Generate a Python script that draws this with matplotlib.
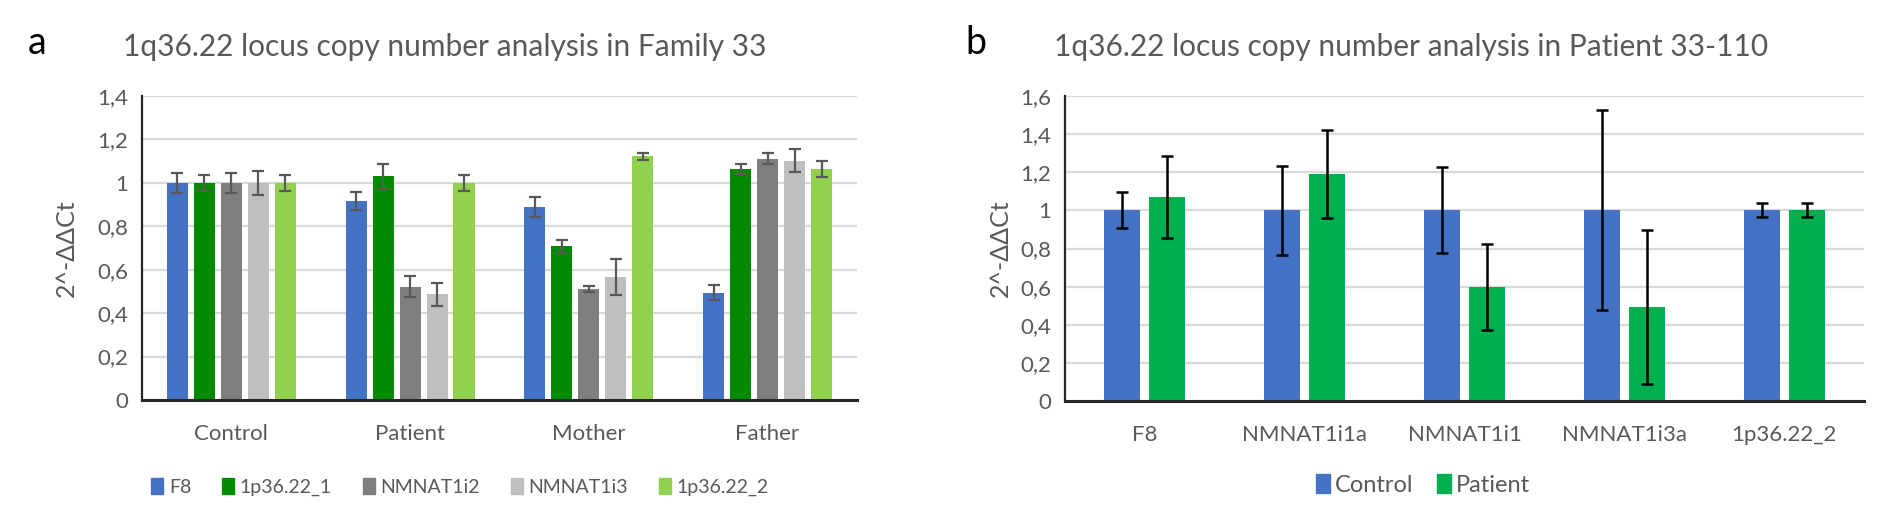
import matplotlib.pyplot as plt
import numpy as np
from matplotlib.patches import Patch

plt.rcParams["font.family"] = ["Lato", "DejaVu Sans"]

# panel a
family_groups = ["Control", "Patient", "Mother", "Father"]
family_probes = ["F8", "1p36.22_1", "NMNAT1i2", "NMNAT1i3", "1p36.22_2"]
family_vals = {
    "F8":        [1.00, 0.916, 0.891, 0.495],
    "1p36.22_1": [1.00, 1.031, 0.708, 1.063],
    "NMNAT1i2":  [1.00, 0.522, 0.512, 1.112],
    "NMNAT1i3":  [1.00, 0.487, 0.568, 1.103],
    "1p36.22_2": [1.00, 1.000, 1.122, 1.062],
}
family_errs = {
    "F8":        [0.046, 0.040, 0.046, 0.034],
    "1p36.22_1": [0.037, 0.058, 0.029, 0.022],
    "NMNAT1i2":  [0.046, 0.047, 0.013, 0.026],
    "NMNAT1i3":  [0.054, 0.054, 0.083, 0.054],
    "1p36.22_2": [0.037, 0.037, 0.015, 0.037],
}
family_colors = ["#4472C4", "#008A00", "#7F7F7F", "#BFBFBF", "#92D050"]

# panel b
patient_probes = ["F8", "NMNAT1i1a", "NMNAT1i1", "NMNAT1i3a", "1p36.22_2"]
control_vals = [1.00, 1.00, 1.00, 1.00, 1.00]
control_errs = [0.094, 0.235, 0.225, 0.525, 0.037]
patient_vals = [1.069, 1.191, 0.598, 0.495, 1.00]
patient_errs = [0.216, 0.230, 0.225, 0.404, 0.037]
pair_colors = ["#4472C4", "#00B050"]

text_color = "#595959"
grid_color = "#D9D9D9"

fig = plt.figure(figsize=(18.9, 5.23), dpi=100)
ax1 = fig.add_axes([0.0751, 0.2352, 0.3783, 0.5812])
ax2 = fig.add_axes([0.5635, 0.2333, 0.4228, 0.5831])


def style_axes(ax, ymax, ylabel_pad):
    ax.set_ylim(0, ymax)
    ticks = np.arange(0, ymax + 0.001, 0.2)
    ax.set_yticks(ticks)
    ax.set_yticklabels([("%g" % t).replace(".", ",") for t in ticks])
    ax.grid(axis="y", color=grid_color, linewidth=1.6)
    ax.set_axisbelow(True)
    for side in ["top", "right"]:
        ax.spines[side].set_visible(False)
    ax.spines["left"].set_linewidth(1.6)
    ax.spines["bottom"].set_linewidth(2.2)
    ax.spines["left"].set_color("#262626")
    ax.spines["bottom"].set_color("#262626")
    ax.tick_params(axis="both", length=0, labelsize=16, colors=text_color, pad=10)
    ax.tick_params(axis="x", pad=17)
    ax.set_ylabel("2^-ΔΔCt", fontsize=18, color=text_color, labelpad=ylabel_pad)


# panel a bars
x = np.arange(len(family_groups))
step = 0.151
for i, probe in enumerate(family_probes):
    pos = x + (i - 2) * step
    ax1.bar(pos, family_vals[probe], 0.118, color=family_colors[i],
            yerr=family_errs[probe], capsize=4.3,
            error_kw=dict(ecolor="#595959", elinewidth=1.6, capthick=1.6),
            label=probe)
ax1.set_xlim(-0.5, len(family_groups) - 0.5)
ax1.set_xticks(x)
ax1.set_xticklabels(family_groups)
style_axes(ax1, 1.4, 14)

handles = [Patch(color=c) for c in family_colors]
ax1.legend(handles, family_probes, loc="center", bbox_to_anchor=(0.445, -0.286),
           ncol=5, frameon=False, fontsize=14, handlelength=0.6, handleheight=0.9,
           handletextpad=0.3, columnspacing=1.6, labelcolor=text_color)

# panel b bars
xb = np.arange(len(patient_probes))
step_b = 0.282
ax2.bar(xb - step_b / 2, control_vals, 0.225, color=pair_colors[0],
        yerr=control_errs, capsize=4,
        error_kw=dict(ecolor="black", elinewidth=1.8, capthick=1.8), label="Control")
ax2.bar(xb + step_b / 2, patient_vals, 0.225, color=pair_colors[1],
        yerr=patient_errs, capsize=4,
        error_kw=dict(ecolor="black", elinewidth=1.8, capthick=1.8), label="Patient")
ax2.set_xlim(-0.5, len(patient_probes) - 0.5)
ax2.set_xticks(xb)
ax2.set_xticklabels(patient_probes)
style_axes(ax2, 1.6, 6)

handles_b = [Patch(color=c) for c in pair_colors]
ax2.legend(handles_b, ["Control", "Patient"], loc="center",
           bbox_to_anchor=(0.448, -0.275), ncol=2, frameon=False, fontsize=17,
           handlelength=0.6, handleheight=0.9, handletextpad=0.2,
           columnspacing=1.0, labelcolor=text_color)

# titles and panel letters
fig.text(0.0651, 0.910, "1q36.22 locus copy number analysis in Family 33",
         fontsize=21.5, color=text_color, va="center", ha="left")
fig.text(0.5577, 0.910, "1q36.22 locus copy number analysis in Patient 33-110",
         fontsize=21.5, color=text_color, va="center", ha="left")
fig.text(0.0148, 0.918, "a", fontsize=27, color="black", va="center", ha="left")
fig.text(0.5106, 0.918, "b", fontsize=27, color="black", va="center", ha="left")

fig.savefig("out.png", dpi=100)
